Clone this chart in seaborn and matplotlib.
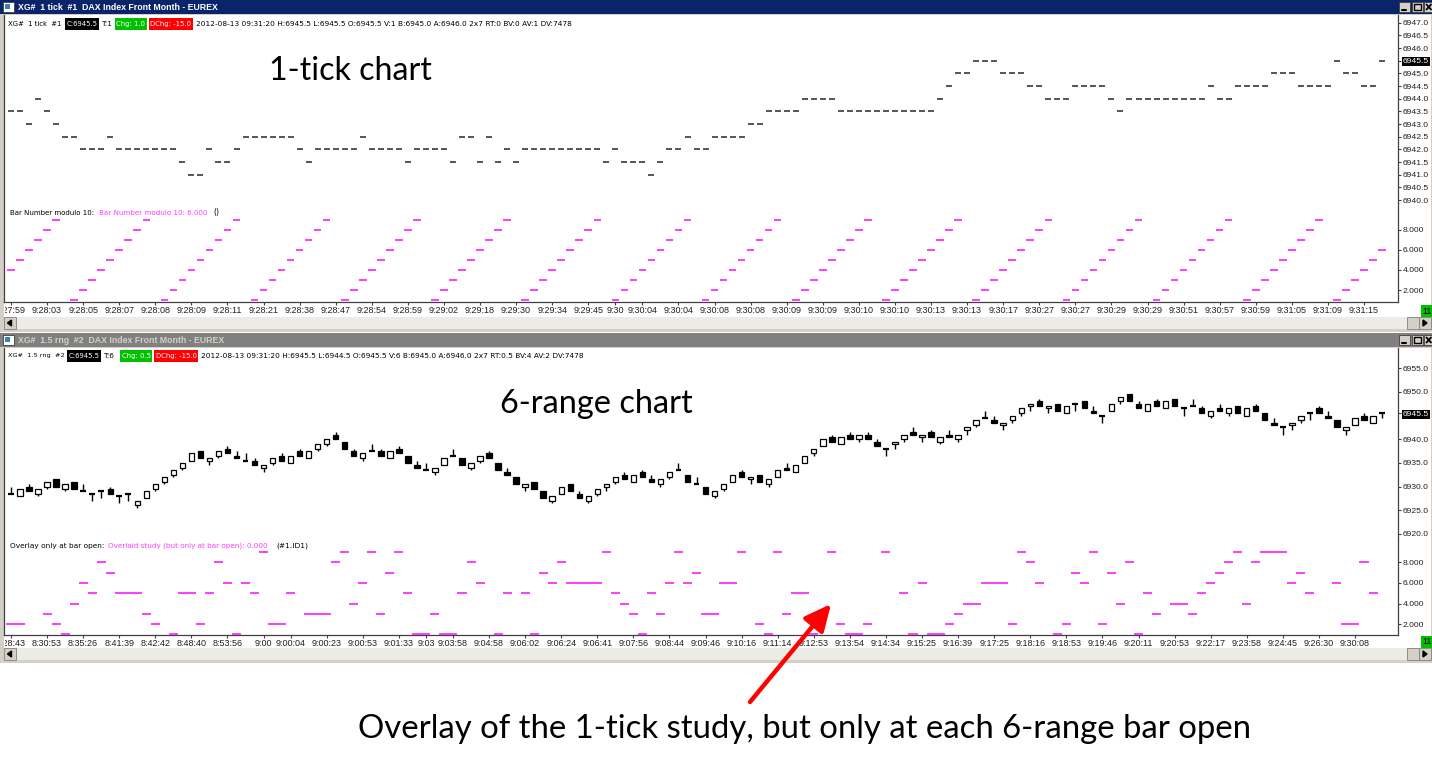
import numpy as np
import matplotlib
matplotlib.use("Agg")
import matplotlib.pyplot as plt
import seaborn as sns
from matplotlib.patches import Rectangle, Polygon
from matplotlib.transforms import Bbox

# ------------------------------------------------------------------ data
# 1-tick chart: last price of every bar
tick_price = [
    6943.5, 6943.5, 6943.0, 6944.0, 6943.5, 6943.0, 6942.5, 6942.5, 6942.0, 6942.0,
    6942.0, 6942.5, 6942.0, 6942.0, 6942.0, 6942.0, 6942.0, 6942.0, 6942.0, 6941.5,
    6941.0, 6941.0, 6942.0, 6941.5, 6941.5, 6942.0, 6942.5, 6942.5, 6942.5, 6942.5,
    6942.5, 6942.5, 6942.0, 6941.5, 6942.0, 6942.0, 6942.0, 6942.0, 6942.0, 6942.5,
    6942.0, 6942.0, 6942.0, 6942.0, 6941.5, 6942.0, 6942.0, 6942.0, 6942.0, 6941.5,
    6942.5, 6942.5, 6941.5, 6942.5, 6941.5, 6942.0, 6941.5, 6942.0, 6942.0, 6942.0,
    6942.0, 6942.0, 6942.0, 6942.0, 6942.0, 6942.0, 6941.5, 6942.0, 6941.5, 6941.5,
    6941.5, 6941.0, 6941.5, 6942.0, 6942.0, 6942.5, 6942.0, 6942.0, 6942.5, 6942.5,
    6942.5, 6942.5, 6943.0, 6943.0, 6943.5, 6943.5, 6943.5, 6943.5, 6944.0, 6944.0,
    6944.0, 6944.0, 6943.5, 6943.5, 6943.5, 6943.5, 6943.5, 6943.5, 6943.5, 6943.5,
    6943.5, 6943.5, 6943.5, 6944.0, 6944.5, 6945.0, 6945.0, 6945.5, 6945.5, 6945.5,
    6945.0, 6945.0, 6945.0, 6944.5, 6944.5, 6944.0, 6944.0, 6944.0, 6944.5, 6944.5,
    6944.5, 6944.5, 6944.0, 6943.5, 6944.0, 6944.0, 6944.0, 6944.0, 6944.0, 6944.0,
    6944.0, 6944.0, 6944.0, 6944.5, 6944.0, 6944.0, 6944.5, 6944.5, 6944.5, 6944.5,
    6945.0, 6945.0, 6945.0, 6944.5, 6944.5, 6944.5, 6944.5, 6945.5, 6945.0, 6945.0,
    6944.5, 6944.5, 6945.5]

# study on the 1-tick chart: bar number modulo 10
bar_mod10 = [
    4, 5, 6, 7, 8, 9, 0, 1, 2, 3, 4, 5, 6, 7, 8, 9, 0, 1, 2, 3,
    4, 5, 6, 7, 8, 9, 0, 1, 2, 3, 4, 5, 6, 7, 8, 9, 0, 1, 2, 3,
    4, 5, 6, 7, 8, 9, 0, 1, 2, 3, 4, 5, 6, 7, 8, 9, 0, 1, 2, 3,
    4, 5, 6, 7, 8, 9, 0, 1, 2, 3, 4, 5, 6, 7, 8, 9, 0, 1, 2, 3,
    4, 5, 6, 7, 8, 9, 0, 1, 2, 3, 4, 5, 6, 7, 8, 9, 0, 1, 2, 3,
    4, 5, 6, 7, 8, 9, 0, 1, 2, 3, 4, 5, 6, 7, 8, 9, 0, 1, 2, 3,
    4, 5, 6, 7, 8, 9, 0, 1, 2, 3, 4, 5, 6, 7, 8, 9, 0, 1, 2, 3,
    4, 5, 6, 7, 8, 9, 0, 1, 2, 3, 4, 5, 6]

top_time_labels = [
    "9:27:59", "9:28:03", "9:28:05", "9:28:07", "9:28:08", "9:28:09", "9:28:11",
    "9:28:21", "9:28:38", "9:28:47", "9:28:54", "9:28:59", "9:29:02", "9:29:18",
    "9:29:30", "9:29:34", "9:29:45", "9:30", "9:30:04", "9:30:04", "9:30:08",
    "9:30:08", "9:30:09", "9:30:09", "9:30:10", "9:30:10", "9:30:13", "9:30:13",
    "9:30:17", "9:30:27", "9:30:27", "9:30:29", "9:30:29", "9:30:51", "9:30:57",
    "9:30:59", "9:31:05", "9:31:09", "9:31:15"]
top_time_bars = list(range(0, 65, 4)) + [67] + list(range(70, 151, 4))

# 1.5 range chart OHLC
rng_open = [
    6928.5, 6928.0, 6930.0, 6928.5, 6930.0, 6931.5, 6929.5, 6931.0, 6929.0, 6928.5,
    6929.0, 6929.5, 6928.0, 6928.5, 6926.0, 6927.5, 6929.5, 6931.0, 6932.5, 6934.0,
    6935.5, 6937.5, 6935.5, 6936.5, 6938.0, 6936.5, 6935.5, 6935.5, 6934.0, 6935.0,
    6936.5, 6935.0, 6937.5, 6936.0, 6938.0, 6939.0, 6941.0, 6939.5, 6937.5, 6936.0,
    6937.5, 6937.5, 6936.0, 6938.0, 6936.5, 6934.5, 6933.5, 6933.0, 6934.5, 6936.5,
    6936.0, 6934.0, 6935.5, 6937.0, 6935.0, 6933.0, 6932.0, 6930.0, 6931.0, 6929.0,
    6927.0, 6928.5, 6930.5, 6928.5, 6927.0, 6928.5, 6930.0, 6931.0, 6932.5, 6931.0,
    6933.0, 6931.5, 6930.5, 6932.0, 6933.5, 6932.5, 6930.5, 6930.0, 6928.0, 6929.5,
    6931.0, 6933.0, 6931.5, 6932.5, 6930.5, 6932.0, 6934.0, 6933.0, 6935.0, 6937.0,
    6938.5, 6940.5, 6939.0, 6941.0, 6940.0, 6941.0, 6939.5, 6938.0, 6939.0, 6940.0,
    6941.5, 6940.5, 6941.5, 6939.5, 6941.0, 6940.0, 6942.0, 6943.0, 6944.5, 6944.0,
    6943.0, 6944.0, 6945.5, 6947.0, 6948.0, 6946.5, 6947.5, 6945.5, 6947.5, 6948.0,
    6946.0, 6945.0, 6946.0, 6948.0, 6949.5, 6947.5, 6946.0, 6948.0, 6946.5, 6948.5,
    6946.5, 6947.0, 6946.5, 6945.0, 6946.5, 6945.5, 6947.0, 6945.0, 6947.0, 6945.5,
    6943.5, 6942.5, 6943.0, 6944.0, 6945.5, 6946.5, 6945.0, 6944.0, 6942.0, 6943.0,
    6945.0, 6943.5, 6945.5]
rng_high = [
    6930.0, 6929.5, 6930.5, 6929.5, 6931.0, 6931.5, 6930.5, 6931.0, 6930.5, 6928.5,
    6929.0, 6930.0, 6928.0, 6928.5, 6927.0, 6929.0, 6930.5, 6932.0, 6933.5, 6935.0,
    6937.0, 6937.5, 6936.0, 6937.5, 6938.5, 6937.5, 6937.0, 6936.0, 6934.5, 6936.0,
    6937.0, 6936.5, 6938.0, 6937.5, 6939.0, 6940.0, 6941.5, 6939.5, 6938.0, 6937.0,
    6939.0, 6938.0, 6937.5, 6938.5, 6936.5, 6935.5, 6935.0, 6934.0, 6936.0, 6938.0,
    6936.0, 6935.0, 6936.5, 6937.5, 6935.0, 6934.0, 6932.0, 6930.5, 6931.0, 6929.0,
    6928.0, 6930.0, 6930.5, 6929.0, 6928.0, 6929.5, 6930.5, 6932.0, 6933.0, 6932.5,
    6933.5, 6932.5, 6931.5, 6933.0, 6935.0, 6932.5, 6932.0, 6930.0, 6929.0, 6930.5,
    6932.5, 6933.5, 6932.0, 6932.5, 6931.5, 6933.5, 6935.0, 6934.5, 6936.5, 6938.0,
    6940.0, 6941.0, 6940.5, 6941.5, 6941.0, 6941.5, 6940.0, 6938.0, 6939.5, 6941.0,
    6942.5, 6941.0, 6942.0, 6940.5, 6942.0, 6941.0, 6942.5, 6944.0, 6946.0, 6945.0,
    6943.5, 6945.0, 6946.5, 6947.5, 6948.5, 6947.0, 6947.5, 6947.0, 6947.5, 6948.0,
    6947.0, 6945.0, 6947.5, 6949.0, 6949.5, 6948.0, 6947.5, 6948.5, 6948.0, 6948.5,
    6946.5, 6948.5, 6947.0, 6946.0, 6947.5, 6946.5, 6947.0, 6946.5, 6947.5, 6945.5,
    6944.5, 6942.5, 6943.5, 6945.0, 6945.5, 6947.0, 6946.0, 6944.0, 6942.5, 6944.5,
    6945.5, 6945.0, 6945.5]
rng_low = [
    6928.5, 6928.0, 6929.0, 6928.0, 6929.5, 6930.0, 6929.0, 6929.5, 6929.0, 6927.0,
    6927.5, 6928.5, 6926.5, 6927.0, 6925.5, 6927.5, 6929.0, 6930.5, 6932.0, 6933.5,
    6935.5, 6936.0, 6934.5, 6936.0, 6937.0, 6936.0, 6935.5, 6934.5, 6933.0, 6934.5,
    6935.5, 6935.0, 6936.5, 6936.0, 6937.5, 6938.5, 6940.0, 6938.0, 6936.5, 6935.5,
    6937.5, 6936.5, 6936.0, 6937.0, 6935.0, 6934.0, 6933.5, 6932.5, 6934.5, 6936.5,
    6934.5, 6933.5, 6935.0, 6936.0, 6933.5, 6932.5, 6930.5, 6929.0, 6929.5, 6927.5,
    6926.5, 6928.5, 6929.0, 6927.5, 6926.5, 6928.0, 6929.0, 6930.5, 6931.5, 6931.0,
    6932.0, 6931.0, 6930.0, 6931.5, 6933.5, 6931.0, 6930.5, 6928.5, 6927.5, 6929.0,
    6931.0, 6932.0, 6930.5, 6931.0, 6930.0, 6932.0, 6933.5, 6933.0, 6935.0, 6936.5,
    6938.5, 6939.5, 6939.0, 6940.0, 6939.5, 6940.0, 6938.5, 6936.5, 6938.0, 6939.5,
    6941.0, 6939.5, 6940.5, 6939.0, 6940.5, 6939.5, 6941.0, 6942.5, 6944.5, 6943.5,
    6942.0, 6943.5, 6945.0, 6946.0, 6947.0, 6945.5, 6946.0, 6945.5, 6946.0, 6946.5,
    6945.5, 6943.5, 6946.0, 6947.5, 6948.0, 6946.5, 6946.0, 6947.0, 6946.5, 6947.0,
    6945.0, 6947.0, 6945.5, 6944.5, 6946.0, 6945.0, 6945.5, 6945.0, 6946.0, 6944.0,
    6943.0, 6941.0, 6942.0, 6943.5, 6944.0, 6945.5, 6944.5, 6942.5, 6941.0, 6943.0,
    6944.0, 6943.5, 6944.5]
rng_close = [
    6928.5, 6929.5, 6929.0, 6929.5, 6931.0, 6930.0, 6930.5, 6929.5, 6929.0, 6928.5,
    6929.0, 6928.5, 6928.0, 6928.5, 6927.0, 6929.0, 6930.5, 6932.0, 6933.5, 6935.0,
    6937.0, 6936.0, 6936.0, 6937.5, 6937.0, 6936.0, 6935.5, 6934.5, 6934.5, 6936.0,
    6935.5, 6936.5, 6936.5, 6937.5, 6939.0, 6940.0, 6940.0, 6938.0, 6936.5, 6937.0,
    6937.5, 6936.5, 6937.5, 6937.0, 6935.0, 6934.0, 6933.5, 6934.0, 6936.0, 6936.5,
    6934.5, 6935.0, 6936.5, 6936.0, 6933.5, 6932.5, 6930.5, 6930.5, 6929.5, 6927.5,
    6928.0, 6930.0, 6929.0, 6927.5, 6928.0, 6929.5, 6930.5, 6932.0, 6931.5, 6932.5,
    6932.0, 6931.0, 6931.5, 6933.0, 6933.5, 6931.0, 6930.5, 6928.5, 6929.0, 6930.5,
    6932.5, 6932.0, 6932.0, 6931.0, 6931.5, 6933.5, 6933.5, 6934.5, 6936.5, 6938.0,
    6940.0, 6939.5, 6940.5, 6940.0, 6941.0, 6940.0, 6938.5, 6938.0, 6939.5, 6941.0,
    6941.0, 6941.0, 6940.5, 6940.5, 6940.5, 6941.0, 6942.5, 6944.0, 6944.5, 6943.5,
    6943.5, 6945.0, 6946.5, 6947.5, 6947.0, 6947.0, 6946.0, 6947.0, 6947.5, 6946.5,
    6945.5, 6945.0, 6947.5, 6949.0, 6948.0, 6946.5, 6947.5, 6947.0, 6948.0, 6947.0,
    6946.5, 6947.0, 6945.5, 6946.0, 6946.0, 6946.5, 6945.5, 6946.5, 6946.0, 6944.0,
    6943.0, 6942.5, 6943.5, 6945.0, 6945.5, 6945.5, 6944.5, 6942.5, 6942.5, 6944.5,
    6944.0, 6945.0, 6945.5]

# overlay of the 1-tick study, sampled at each range bar open
overlay_at_open = [
    2, 2, 0, 0, 3, 2, 1, 4, 6, 5,
    8, 7, 5, 5, 5, 3, 2, 0, 1, 5,
    5, 2, 5, 8, 6, 1, 6, 5, 9, 2,
    2, 5, 0, 3, 3, 3, 8, 9, 4, 6,
    9, 3, 7, 9, 5, 1, 1, 3, 1, 1,
    5, 8, 6, 0, 1, 5, 0, 5, 1, 7,
    6, 8, 6, 6, 6, 6, 9, 5, 4, 3,
    1, 5, 3, 6, 9, 6, 7, 3, 3, 6,
    6, 9, 0, 2, 1, 9, 3, 5, 5, 1,
    0, 9, 2, 1, 1, 2, 0, 9, 0, 5,
    1, 6, 1, 1, 2, 3, 4, 4, 6, 6,
    6, 2, 9, 8, 6, 0, 1, 2, 7, 6,
    9, 2, 7, 4, 8, 1, 5, 3, 0, 4,
    4, 3, 5, 6, 7, 8, 9, 4, 8, 9,
    9, 9, 6, 7, 5, 0, 0, 6, 2, 2,
    8, 5, 0]

bot_time_labels = [
    "8:28:43", "8:30:53", "8:35:26", "8:41:39", "8:42:42", "8:48:40", "8:53:56",
    "9:00", "9:00:04", "9:00:23", "9:00:53", "9:01:33", "9:03", "9:03:58",
    "9:04:58", "9:06:02", "9:06:24", "9:06:41", "9:07:56", "9:08:44", "9:09:46",
    "9:10:16", "9:11:14", "9:12:53", "9:13:54", "9:14:34", "9:15:25", "9:16:39",
    "9:17:25", "9:18:16", "9:18:53", "9:19:46", "9:20:11", "9:20:53", "9:22:17",
    "9:23:58", "9:24:45", "9:26:30", "9:30:08"]
bot_time_bars = list(range(0, 29, 4)) + [31, 35, 39, 43, 46] + list(range(49, 150, 4))

top_price_ticks = [6940.0, 6940.5, 6941.0, 6941.5, 6942.0, 6942.5, 6943.0, 6943.5,
                   6944.0, 6944.5, 6945.0, 6945.5, 6946.0, 6946.5, 6947.0]
bot_price_ticks = [6920.0, 6925.0, 6930.0, 6935.0, 6940.0, 6945.5, 6950.0, 6955.0]
study_ticks = [2, 4, 6, 8]
last_price = 6945.5

# ------------------------------------------------------------------ setup
sns.set_theme(style="white")
plt.rcParams['font.family'] = ['Liberation Sans', 'DejaVu Sans']

W, H = 1432, 761
fig = plt.figure(figsize=(W / 100, H / 100), dpi=100, facecolor='white')
R = fig.canvas.get_renderer()


def frac(x0, y0, x1, y1):
    return [x0 / W, 1 - y1 / H, (x1 - x0) / W, (y1 - y0) / H]


bg = fig.add_axes([0, 0, 1, 1], zorder=0)
bg.set_xlim(0, W); bg.set_ylim(H, 0); bg.axis('off')
fg = fig.add_axes([0, 0, 1, 1], zorder=20)
fg.set_xlim(0, W); fg.set_ylim(H, 0); fg.axis('off')
fg.patch.set_alpha(0)


def box(ax, x0, y0, x1, y1, fc, ec='none', lw=0, z=1):
    ax.add_patch(Rectangle((x0, y0), x1 - x0, y1 - y0, facecolor=fc,
                           edgecolor=ec, linewidth=lw, zorder=z))


def fit(ax, x0, x1, y, s, color='black', weight='normal', family='Liberation Sans',
        va='center', z=30, maxsize=None):
    t = ax.text(x0, y, s, color=color, fontsize=10, fontweight=weight, family=family,
                ha='left', va=va, zorder=z)
    w = t.get_window_extent(renderer=R).width
    size = 10 * (x1 - x0) / w
    if maxsize is not None:
        size = min(size, maxsize)
    t.set_fontsize(size)
    return t


FRAME = '#D4D0C8'
MAG = '#FF3CFF'


def window(y0, y_scroll, y_end, title, active, tsize=None):
    box(bg, 0, y0, W, y_end, FRAME)
    box(bg, 0, y0, W, y0 + 14, '#0A246A' if active else '#808080', z=2)
    box(bg, 3, y0 + 2, 14, y0 + 12, 'white', ec='#404040', lw=0.6, z=3)
    box(bg, 5, y0 + 4, 10, y0 + 9, '#3a80c0', z=4)
    tcol = 'white' if active else FRAME
    if tsize is None:
        t = fit(bg, 18, 217, y0 + 7.5, title, color=tcol, weight='bold', z=5)
    else:
        t = bg.text(18, y0 + 7.5, title, color=tcol, fontsize=tsize, fontweight='bold',
                    ha='left', va='center', zorder=5)
    for bx in (1399, 1411.5, 1424):
        box(bg, bx, y0 + 2, bx + 11, y0 + 12, FRAME, ec='#404040', lw=0.6, z=3)
    bg.plot([1401.5, 1406], [y0 + 10, y0 + 10], color='black', lw=1.5, zorder=4)
    bg.add_patch(Rectangle((1413.5, y0 + 4), 7, 6, fill=False, edgecolor='black',
                           lw=1.0, zorder=4))
    bg.plot([1426.5, 1431], [y0 + 4.5, y0 + 9.5], color='black', lw=1.3, zorder=4)
    bg.plot([1426.5, 1431], [y0 + 9.5, y0 + 4.5], color='black', lw=1.3, zorder=4)
    # client area
    box(bg, 4, y0 + 15, 1431, y_scroll, 'white', z=2)
    # scrollbar
    box(bg, 4, y_scroll, 1431, y_scroll + 12, '#ECEBE6', z=2)
    box(bg, 4, y_scroll, 16, y_scroll + 12, FRAME, ec='#808080', lw=0.6, z=3)
    bg.add_patch(Polygon([(7.5, y_scroll + 6), (11.5, y_scroll + 3), (11.5, y_scroll + 9)],
                         closed=True, color='black', zorder=4))
    box(bg, 1407, y_scroll, 1419, y_scroll + 12, FRAME, ec='#808080', lw=0.6, z=3)
    box(bg, 1419, y_scroll, 1431, y_scroll + 12, FRAME, ec='#808080', lw=0.6, z=3)
    bg.add_patch(Polygon([(1427, y_scroll + 6), (1423, y_scroll + 3), (1423, y_scroll + 9)],
                         closed=True, color='black', zorder=4))
    box(bg, 1421, y_scroll - 12, 1432, y_scroll, '#00C000', z=3)
    bg.text(1422, y_scroll - 6, "11", fontsize=6.5, color='black', va='center',
            ha='left', zorder=4)
    return t.get_fontsize()


tsz = window(0, 317, 332, "XG#  1 tick  #1  DAX Index Front Month - EUREX", True)
window(333, 648, 663, "XG#  1.5 rng  #2  DAX Index Front Month - EUREX", False, tsize=tsz)

# ------------------------------------------------------------------ chart axes
XL = ((4 - 11) / 9.02, (1398 - 11) / 9.02)


def mk(y0, y1, ylim, bottom_spine):
    ax = fig.add_axes(frac(4, y0, 1398, y1), zorder=5)
    ax.set_facecolor('white')
    ax.set_xlim(*XL)
    ax.set_ylim(*ylim)
    ax.grid(False)
    for s in ax.spines.values():
        s.set_color('#404040'); s.set_linewidth(0.9)
    ax.spines['top'].set_visible(False)
    ax.spines['bottom'].set_visible(bottom_spine)
    ax.yaxis.tick_right()
    ax.tick_params(axis='y', right=True, left=False, labelright=True, labelleft=False,
                   length=2.2, width=0.8, color='#404040', pad=1.2, labelsize=6.1,
                   labelcolor='#202020')
    if bottom_spine:
        ax.tick_params(axis='x', bottom=True, length=2.2, width=0.8, color='#404040',
                       pad=1.0, labelsize=6.5, labelcolor='#202020')
    else:
        ax.tick_params(axis='x', bottom=False, labelbottom=False)
    return ax


ax1p = mk(15, 203, (6939.882, 6947.304), False)
ax1s = mk(203, 302, (0.8, 10.7), True)
ax2p = mk(348, 540, (6918.70, 6959.29), False)
ax2s = mk(540, 635, (0.942, 10.165), True)

for ax, ticks in ((ax1p, top_price_ticks), (ax2p, bot_price_ticks)):
    ax.set_yticks(ticks, labels=[f"{v:.1f}" for v in ticks])
    for t in ax.get_yticklabels():
        if t.get_text() == f"{last_price:.1f}":
            t.set_color('white')
            t.set_bbox(dict(facecolor='black', edgecolor='none', pad=0.8))
for ax in (ax1s, ax2s):
    ax.set_yticks(study_ticks, labels=[f"{v:.3f}" for v in study_ticks])

ax1s.set_xticks(top_time_bars, labels=top_time_labels)
ax2s.set_xticks(bot_time_bars, labels=bot_time_labels)

# 1-tick price dashes
bars1 = np.arange(len(tick_price))
sns.scatterplot(x=bars1, y=tick_price, marker='_', s=24, color='#484848',
                linewidth=1.3, ax=ax1p, legend=False, zorder=3)

# study dashes
m = np.array(bar_mod10, dtype=float)
ax1s.hlines(m, bars1 - 0.42, bars1 + 0.42, color=MAG, lw=1.4, zorder=3)
ov = np.array(overlay_at_open, dtype=float)
bars2 = np.arange(len(ov))
ax2s.hlines(ov, bars2 - 0.5, bars2 + 0.5, color=MAG, lw=1.4, zorder=3)

# range-bar candles
o = np.array(rng_open); h = np.array(rng_high)
l = np.array(rng_low); c = np.array(rng_close)
xb = np.arange(len(o))
ax2p.vlines(xb, l, h, color='black', lw=1.0, zorder=2)
up = c > o; dn = c < o; dj = c == o
ax2p.bar(xb[up], (c - o)[up], bottom=o[up], width=0.6, facecolor='white',
         edgecolor='black', linewidth=0.9, zorder=3)
ax2p.bar(xb[dn], (o - c)[dn], bottom=c[dn], width=0.6, facecolor='black',
         edgecolor='black', linewidth=0.9, zorder=3)
ax2p.hlines(o[dj], xb[dj] - 0.33, xb[dj] + 0.33, color='black', lw=1.6, zorder=3)

# ------------------------------------------------------------------ header lines
HF = 'DejaVu Sans'
hsize = fit(fg, 196, 572, 24,
            "2012-08-13 09:31:20 H:6945.5 L:6945.5 O:6945.5 V:1 B:6945.0 A:6946.0 2x7 RT:0 BV:0 AV:1 DV:7478",
            family=HF).get_fontsize()


def plain(x, y, s):
    fg.text(x, y, s, fontsize=hsize, family=HF, color='black', ha='left',
            va='center', zorder=30)


def boxed(x0, x1, y, s, fc, tc='white'):
    box(fg, x0, y - 6, x1, y + 6, fc, z=25)
    fit(fg, x0 + 1.5, x1 - 1.5, y, s, color=tc, family=HF)


fit(fg, 8, 62, 24, "XG#  1 tick  #1", family=HF, maxsize=hsize)
boxed(65, 99, 24, "C:6945.5", 'black')
plain(101, 24, "T:1")
boxed(115, 147, 24, "Chg: 1.0", '#00C000')
boxed(149, 193, 24, "DChg: -15.0", '#FF0000')

fit(fg, 8, 64, 356, "XG#  1.5 rng  #2", family=HF, maxsize=hsize)
boxed(67, 101, 356, "C:6945.5", 'black')
plain(103, 356, "T:6")
boxed(120, 152, 356, "Chg: 0.5", '#00C000')
boxed(154, 198, 356, "DChg: -15.0", '#FF0000')
plain(201, 356,
      "2012-08-13 09:31:20 H:6945.5 L:6944.5 O:6945.5 V:6 B:6945.0 A:6946.0 2x7 RT:0.5 BV:4 AV:2 DV:7478")

# study labels
fit(fg, 10, 95, 213, "Bar Number modulo 10:", family=HF)
fit(fg, 99, 207, 213, "Bar Number modulo 10: 6.000", color=MAG, family=HF)
fit(fg, 213, 219, 213, "()", family=HF)
fit(fg, 10, 104, 546, "Overlay only at bar open:", family=HF)
fit(fg, 108, 269, 546, "Overlaid study (but only at bar open): 0.000", color=MAG, family=HF)
fit(fg, 276, 308, 546, "(#1.ID1)", family=HF)

# big annotations
fit(fg, 269, 432, 80, "1-tick chart", family='Lato', va='baseline')
fit(fg, 500, 693, 413, "6-range chart", family='Lato', va='baseline')
fit(fg, 358, 1250, 738, "Overlay of the 1-tick study, but only at each 6-range bar open",
    family='Lato', va='baseline')

fg.annotate('', xy=(831, 604), xytext=(750, 702),
            arrowprops=dict(arrowstyle='-|>,head_length=0.8,head_width=0.38',
                            mutation_scale=20, color='#FF0000', lw=3.2,
                            shrinkA=0, shrinkB=0), zorder=35)

# clip the first (truncated) time label at the window edge
fig.canvas.draw()
for ax in (ax1s, ax2s):
    lab = ax.get_xticklabels()[0]
    lab.set_clip_box(Bbox([[5, 0], [W, H]]))
    lab.set_clip_on(True)

fig.savefig("out.png", dpi=100, facecolor='white')
